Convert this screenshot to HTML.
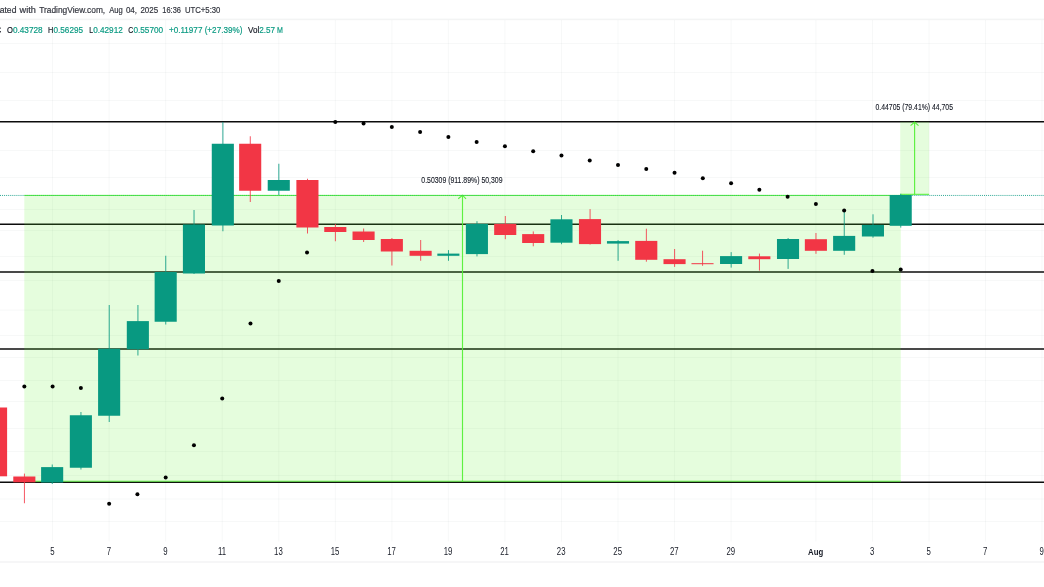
<!DOCTYPE html><html><head><meta charset="utf-8"><style>html,body{margin:0;padding:0;background:#fff;width:1044px;height:587px;overflow:hidden}svg{display:block}text{font-family:"Liberation Sans",sans-serif}</style></head><body>
<svg width="1044" height="587" viewBox="0 0 1044 587">
<rect width="1044" height="587" fill="#fff"/>
<rect x="52.10" y="20" width="1" height="521.5" fill="#2a2e39" fill-opacity="0.036"/>
<rect x="108.64" y="20" width="1" height="521.5" fill="#2a2e39" fill-opacity="0.036"/>
<rect x="165.18" y="20" width="1" height="521.5" fill="#2a2e39" fill-opacity="0.036"/>
<rect x="221.72" y="20" width="1" height="521.5" fill="#2a2e39" fill-opacity="0.036"/>
<rect x="278.26" y="20" width="1" height="521.5" fill="#2a2e39" fill-opacity="0.036"/>
<rect x="334.80" y="20" width="1" height="521.5" fill="#2a2e39" fill-opacity="0.036"/>
<rect x="391.34" y="20" width="1" height="521.5" fill="#2a2e39" fill-opacity="0.036"/>
<rect x="447.88" y="20" width="1" height="521.5" fill="#2a2e39" fill-opacity="0.036"/>
<rect x="504.42" y="20" width="1" height="521.5" fill="#2a2e39" fill-opacity="0.036"/>
<rect x="560.96" y="20" width="1" height="521.5" fill="#2a2e39" fill-opacity="0.036"/>
<rect x="617.50" y="20" width="1" height="521.5" fill="#2a2e39" fill-opacity="0.036"/>
<rect x="674.04" y="20" width="1" height="521.5" fill="#2a2e39" fill-opacity="0.036"/>
<rect x="730.58" y="20" width="1" height="521.5" fill="#2a2e39" fill-opacity="0.036"/>
<rect x="815.39" y="20" width="1" height="521.5" fill="#2a2e39" fill-opacity="0.036"/>
<rect x="871.93" y="20" width="1" height="521.5" fill="#2a2e39" fill-opacity="0.036"/>
<rect x="928.47" y="20" width="1" height="521.5" fill="#2a2e39" fill-opacity="0.036"/>
<rect x="985.01" y="20" width="1" height="521.5" fill="#2a2e39" fill-opacity="0.036"/>
<rect x="1041.55" y="20" width="1" height="521.5" fill="#2a2e39" fill-opacity="0.036"/>
<rect x="0" y="43" width="1044" height="1" fill="#2a2e39" fill-opacity="0.036"/>
<rect x="0" y="72" width="1044" height="1" fill="#2a2e39" fill-opacity="0.036"/>
<rect x="0" y="100" width="1044" height="1" fill="#2a2e39" fill-opacity="0.036"/>
<rect x="0" y="150" width="1044" height="1" fill="#2a2e39" fill-opacity="0.036"/>
<rect x="0" y="177" width="1044" height="1" fill="#2a2e39" fill-opacity="0.036"/>
<rect x="0" y="209" width="1044" height="1" fill="#2a2e39" fill-opacity="0.036"/>
<rect x="0" y="230" width="1044" height="1" fill="#2a2e39" fill-opacity="0.036"/>
<rect x="0" y="256" width="1044" height="1" fill="#2a2e39" fill-opacity="0.036"/>
<rect x="0" y="280" width="1044" height="1" fill="#2a2e39" fill-opacity="0.036"/>
<rect x="0" y="309.6" width="1044" height="1" fill="#2a2e39" fill-opacity="0.036"/>
<rect x="0" y="335" width="1044" height="1" fill="#2a2e39" fill-opacity="0.036"/>
<rect x="0" y="357" width="1044" height="1" fill="#2a2e39" fill-opacity="0.036"/>
<rect x="0" y="380" width="1044" height="1" fill="#2a2e39" fill-opacity="0.036"/>
<rect x="0" y="401" width="1044" height="1" fill="#2a2e39" fill-opacity="0.036"/>
<rect x="0" y="428" width="1044" height="1" fill="#2a2e39" fill-opacity="0.036"/>
<rect x="0" y="451" width="1044" height="1" fill="#2a2e39" fill-opacity="0.036"/>
<rect x="0" y="475" width="1044" height="1" fill="#2a2e39" fill-opacity="0.036"/>
<rect x="0" y="498.5" width="1044" height="1" fill="#2a2e39" fill-opacity="0.036"/>
<rect x="0" y="521" width="1044" height="1" fill="#2a2e39" fill-opacity="0.036"/>
<rect x="0" y="18.6" width="1044" height="1.6" fill="#2a2e39" fill-opacity="0.055"/>
<rect x="0" y="561.2" width="1044" height="1.6" fill="#2a2e39" fill-opacity="0.05"/>
<line x1="0" y1="121.75" x2="1044" y2="121.75" stroke="#0c0c0c" stroke-width="1.6"/>
<line x1="0" y1="224.32" x2="1044" y2="224.32" stroke="#0c0c0c" stroke-width="1.6"/>
<line x1="0" y1="272.0" x2="1044" y2="272.0" stroke="#0c0c0c" stroke-width="1.6"/>
<line x1="0" y1="349.0" x2="1044" y2="349.0" stroke="#0c0c0c" stroke-width="1.6"/>
<line x1="0" y1="482.3" x2="1044" y2="482.3" stroke="#0c0c0c" stroke-width="1.6"/>
<rect x="24.3" y="195.3" width="876.5" height="287.0" fill="#5cf02c" fill-opacity="0.16"/>
<rect x="900.2" y="121.8" width="28.899999999999977" height="72.7" fill="#5cf02c" fill-opacity="0.16"/>
<line x1="24.3" y1="195.4" x2="900.8" y2="195.4" stroke="#4ff030" stroke-width="1"/>
<line x1="24.3" y1="481.2" x2="900.8" y2="481.2" stroke="#4ff030" stroke-width="1" stroke-opacity="0.8"/>
<line x1="900.2" y1="194.3" x2="929.1" y2="194.3" stroke="#4ff030" stroke-width="1"/>
<path d="M462.5 482V195.4M458.2 198.8L462.5 195.2L466 198.8" stroke="#4ff030" stroke-width="1.15" stroke-opacity="0.9" fill="none"/>
<path d="M914.6 194.3V122M910.6 125.6L914.6 122L918.5 125.6" stroke="#4ff030" stroke-width="1.15" stroke-opacity="0.9" fill="none"/>
<line x1="0" y1="195.45" x2="24.3" y2="195.45" stroke="#089981" stroke-width="1" stroke-dasharray="1 1.05" stroke-dashoffset="0.00" stroke-opacity="0.85"/>
<line x1="24.3" y1="195.45" x2="900.8" y2="195.45" stroke="#089981" stroke-width="1" stroke-dasharray="1 1.05" stroke-dashoffset="1.75" stroke-opacity="0.45"/>
<line x1="900.8" y1="195.45" x2="1044" y2="195.45" stroke="#089981" stroke-width="1" stroke-dasharray="1 1.05" stroke-dashoffset="0.85" stroke-opacity="0.85"/>
<rect x="-4.34" y="400" width="0.95" height="80.00" fill="#F23645" fill-opacity="0.88"/>
<rect x="-14.99" y="407.5" width="22.10" height="68.80" fill="#F23645"/>
<rect x="23.93" y="473.6" width="0.95" height="29.65" fill="#F23645" fill-opacity="0.88"/>
<rect x="13.28" y="476.5" width="22.10" height="5.80" fill="#F23645"/>
<rect x="51.75" y="464.5" width="0.95" height="19.50" fill="#089981" fill-opacity="0.88"/>
<rect x="41.10" y="467.1" width="22.10" height="15.40" fill="#089981"/>
<rect x="80.47" y="412" width="0.95" height="57.50" fill="#089981" fill-opacity="0.88"/>
<rect x="69.82" y="415.25" width="22.10" height="52.50" fill="#089981"/>
<rect x="108.74" y="305" width="0.95" height="117.00" fill="#089981" fill-opacity="0.88"/>
<rect x="98.09" y="348.75" width="22.10" height="67.00" fill="#089981"/>
<rect x="137.45" y="305" width="0.95" height="50.50" fill="#089981" fill-opacity="0.88"/>
<rect x="126.80" y="321.1" width="22.10" height="28.15" fill="#089981"/>
<rect x="165.28" y="255.75" width="0.95" height="68.75" fill="#089981" fill-opacity="0.88"/>
<rect x="154.63" y="272" width="22.10" height="49.75" fill="#089981"/>
<rect x="193.55" y="210" width="0.95" height="64.00" fill="#089981" fill-opacity="0.88"/>
<rect x="182.90" y="224.5" width="22.10" height="49.00" fill="#089981"/>
<rect x="222.42" y="122" width="0.95" height="109.25" fill="#089981" fill-opacity="0.88"/>
<rect x="211.77" y="143.75" width="22.10" height="81.75" fill="#089981"/>
<rect x="249.79" y="136.25" width="0.95" height="65.75" fill="#F23645" fill-opacity="0.88"/>
<rect x="239.14" y="143.75" width="22.10" height="47.00" fill="#F23645"/>
<rect x="278.36" y="163.75" width="0.95" height="31.25" fill="#089981" fill-opacity="0.88"/>
<rect x="267.71" y="180" width="22.10" height="10.75" fill="#089981"/>
<rect x="307.03" y="178.75" width="0.95" height="54.75" fill="#F23645" fill-opacity="0.88"/>
<rect x="296.38" y="180" width="22.10" height="47.50" fill="#F23645"/>
<rect x="334.90" y="224" width="0.95" height="17.25" fill="#F23645" fill-opacity="0.88"/>
<rect x="324.25" y="227" width="22.10" height="5.00" fill="#F23645"/>
<rect x="363.17" y="228.5" width="0.95" height="13.50" fill="#F23645" fill-opacity="0.88"/>
<rect x="352.52" y="231.5" width="22.10" height="8.50" fill="#F23645"/>
<rect x="391.44" y="238" width="0.95" height="27.50" fill="#F23645" fill-opacity="0.88"/>
<rect x="380.79" y="239" width="22.10" height="12.50" fill="#F23645"/>
<rect x="420.21" y="240" width="0.95" height="20.75" fill="#F23645" fill-opacity="0.88"/>
<rect x="409.56" y="250.8" width="22.10" height="5.00" fill="#F23645"/>
<rect x="447.98" y="250.1" width="0.95" height="10.70" fill="#089981" fill-opacity="0.88"/>
<rect x="437.33" y="253.6" width="22.10" height="2.20" fill="#089981"/>
<rect x="476.50" y="221.2" width="0.95" height="35.20" fill="#089981" fill-opacity="0.88"/>
<rect x="465.85" y="223.9" width="22.10" height="30.20" fill="#089981"/>
<rect x="504.82" y="216.0" width="0.95" height="23.20" fill="#F23645" fill-opacity="0.88"/>
<rect x="494.17" y="223.9" width="22.10" height="11.10" fill="#F23645"/>
<rect x="532.79" y="231.4" width="0.95" height="14.90" fill="#F23645" fill-opacity="0.88"/>
<rect x="522.14" y="234.1" width="22.10" height="8.90" fill="#F23645"/>
<rect x="561.06" y="215" width="0.95" height="29.20" fill="#089981" fill-opacity="0.88"/>
<rect x="550.41" y="219.3" width="22.10" height="23.40" fill="#089981"/>
<rect x="589.60" y="209.1" width="0.95" height="35.40" fill="#F23645" fill-opacity="0.88"/>
<rect x="578.95" y="219.1" width="22.10" height="25.00" fill="#F23645"/>
<rect x="617.60" y="240.1" width="0.95" height="20.70" fill="#089981" fill-opacity="0.88"/>
<rect x="606.95" y="241.1" width="22.10" height="2.50" fill="#089981"/>
<rect x="645.87" y="228.7" width="0.95" height="33.00" fill="#F23645" fill-opacity="0.88"/>
<rect x="635.22" y="240.9" width="22.10" height="18.90" fill="#F23645"/>
<rect x="674.14" y="249.0" width="0.95" height="17.90" fill="#F23645" fill-opacity="0.88"/>
<rect x="663.49" y="259.2" width="22.10" height="4.90" fill="#F23645"/>
<rect x="702.11" y="250.7" width="0.95" height="15.10" fill="#F23645" fill-opacity="0.88"/>
<rect x="691.46" y="263.2" width="22.10" height="1.00" fill="#F23645"/>
<rect x="730.68" y="252.1" width="0.95" height="15.50" fill="#089981" fill-opacity="0.88"/>
<rect x="720.03" y="256.1" width="22.10" height="7.90" fill="#089981"/>
<rect x="758.95" y="253.6" width="0.95" height="17.00" fill="#F23645" fill-opacity="0.88"/>
<rect x="748.30" y="256.3" width="22.10" height="2.90" fill="#F23645"/>
<rect x="787.62" y="238.0" width="0.95" height="30.90" fill="#089981" fill-opacity="0.88"/>
<rect x="776.97" y="239.0" width="22.10" height="20.00" fill="#089981"/>
<rect x="815.49" y="233" width="0.95" height="20.80" fill="#F23645" fill-opacity="0.88"/>
<rect x="804.84" y="239.2" width="22.10" height="11.60" fill="#F23645"/>
<rect x="843.76" y="211" width="0.95" height="43.80" fill="#089981" fill-opacity="0.88"/>
<rect x="833.11" y="235.9" width="22.10" height="14.90" fill="#089981"/>
<rect x="872.53" y="214.3" width="0.95" height="23.40" fill="#089981" fill-opacity="0.88"/>
<rect x="861.88" y="224.9" width="22.10" height="11.60" fill="#089981"/>
<rect x="900.30" y="193.75" width="0.95" height="33.85" fill="#089981" fill-opacity="0.88"/>
<rect x="889.65" y="195.0" width="22.10" height="30.80" fill="#089981"/>
<circle cx="24.33" cy="386.5" r="2" fill="#000"/>
<circle cx="52.60" cy="386.5" r="2" fill="#000"/>
<circle cx="80.87" cy="388" r="2" fill="#000"/>
<circle cx="109.14" cy="503.75" r="2" fill="#000"/>
<circle cx="137.41" cy="494.25" r="2" fill="#000"/>
<circle cx="165.68" cy="477.5" r="2" fill="#000"/>
<circle cx="193.95" cy="445.25" r="2" fill="#000"/>
<circle cx="222.22" cy="398.5" r="2" fill="#000"/>
<circle cx="250.49" cy="323.5" r="2" fill="#000"/>
<circle cx="278.76" cy="281" r="2" fill="#000"/>
<circle cx="307.03" cy="252.5" r="2" fill="#000"/>
<circle cx="335.30" cy="122" r="2" fill="#000"/>
<circle cx="363.57" cy="123.5" r="2" fill="#000"/>
<circle cx="391.84" cy="127" r="2" fill="#000"/>
<circle cx="420.11" cy="132" r="2" fill="#000"/>
<circle cx="448.38" cy="137" r="2" fill="#000"/>
<circle cx="476.65" cy="142" r="2" fill="#000"/>
<circle cx="504.92" cy="146.25" r="2" fill="#000"/>
<circle cx="533.19" cy="151.25" r="2" fill="#000"/>
<circle cx="561.46" cy="155.5" r="2" fill="#000"/>
<circle cx="589.73" cy="160.5" r="2" fill="#000"/>
<circle cx="618.00" cy="165" r="2" fill="#000"/>
<circle cx="646.27" cy="169" r="2" fill="#000"/>
<circle cx="674.54" cy="172.75" r="2" fill="#000"/>
<circle cx="702.81" cy="178.25" r="2" fill="#000"/>
<circle cx="731.08" cy="183.25" r="2" fill="#000"/>
<circle cx="759.35" cy="189.75" r="2" fill="#000"/>
<circle cx="787.62" cy="196.75" r="2" fill="#000"/>
<circle cx="815.89" cy="204.1" r="2" fill="#000"/>
<circle cx="844.16" cy="210.5" r="2" fill="#000"/>
<circle cx="872.43" cy="271.0" r="2" fill="#000"/>
<circle cx="900.70" cy="269.4" r="2" fill="#000"/>
<g opacity="0.99">
<text x="-0.3" y="13.3" font-size="9.7" fill="#2f323b" stroke="#2f323b" stroke-width="0.2" textLength="16.7" lengthAdjust="spacingAndGlyphs" text-anchor="start">ated</text>
<text x="19.6" y="13.3" font-size="9.7" fill="#2f323b" stroke="#2f323b" stroke-width="0.2" textLength="16.3" lengthAdjust="spacingAndGlyphs" text-anchor="start">with</text>
<text x="39.2" y="13.3" font-size="9.7" fill="#2f323b" stroke="#2f323b" stroke-width="0.2" textLength="66.0" lengthAdjust="spacingAndGlyphs" text-anchor="start">TradingView.com,</text>
<text x="109.2" y="13.3" font-size="9.7" fill="#2f323b" stroke="#2f323b" stroke-width="0.2" textLength="13.6" lengthAdjust="spacingAndGlyphs" text-anchor="start">Aug</text>
<text x="125.9" y="13.3" font-size="9.7" fill="#2f323b" stroke="#2f323b" stroke-width="0.2" textLength="11.1" lengthAdjust="spacingAndGlyphs" text-anchor="start">04,</text>
<text x="140.4" y="13.3" font-size="9.7" fill="#2f323b" stroke="#2f323b" stroke-width="0.2" textLength="17.7" lengthAdjust="spacingAndGlyphs" text-anchor="start">2025</text>
<text x="162.3" y="13.3" font-size="9.7" fill="#2f323b" stroke="#2f323b" stroke-width="0.2" textLength="18.6" lengthAdjust="spacingAndGlyphs" text-anchor="start">16:36</text>
<text x="184.9" y="13.3" font-size="9.7" fill="#2f323b" stroke="#2f323b" stroke-width="0.2" textLength="35.5" lengthAdjust="spacingAndGlyphs" text-anchor="start">UTC+5:30</text>
<text x="-4.0" y="32.6" font-size="9.8" fill="#131722" stroke="#131722" stroke-width="0.2" textLength="5.2" lengthAdjust="spacingAndGlyphs" text-anchor="start">C</text>
<text x="7.0" y="32.6" font-size="9.8" fill="#131722" stroke="#131722" stroke-width="0.2" textLength="5.9" lengthAdjust="spacingAndGlyphs" text-anchor="start">O</text>
<text x="12.9" y="32.6" font-size="9.8" fill="#089981" stroke="#089981" stroke-width="0.2" textLength="29.8" lengthAdjust="spacingAndGlyphs" text-anchor="start">0.43728</text>
<text x="48.1" y="32.6" font-size="9.8" fill="#131722" stroke="#131722" stroke-width="0.2" textLength="5.3" lengthAdjust="spacingAndGlyphs" text-anchor="start">H</text>
<text x="53.5" y="32.6" font-size="9.8" fill="#089981" stroke="#089981" stroke-width="0.2" textLength="29.5" lengthAdjust="spacingAndGlyphs" text-anchor="start">0.56295</text>
<text x="89.3" y="32.6" font-size="9.8" fill="#131722" stroke="#131722" stroke-width="0.2" textLength="3.8" lengthAdjust="spacingAndGlyphs" text-anchor="start">L</text>
<text x="93.2" y="32.6" font-size="9.8" fill="#089981" stroke="#089981" stroke-width="0.2" textLength="29.6" lengthAdjust="spacingAndGlyphs" text-anchor="start">0.42912</text>
<text x="128.3" y="32.6" font-size="9.8" fill="#131722" stroke="#131722" stroke-width="0.2" textLength="5.0" lengthAdjust="spacingAndGlyphs" text-anchor="start">C</text>
<text x="133.4" y="32.6" font-size="9.8" fill="#089981" stroke="#089981" stroke-width="0.2" textLength="29.7" lengthAdjust="spacingAndGlyphs" text-anchor="start">0.55700</text>
<text x="168.9" y="32.6" font-size="9.8" fill="#089981" stroke="#089981" stroke-width="0.2" textLength="73.5" lengthAdjust="spacingAndGlyphs" text-anchor="start">+0.11977 (+27.39%)</text>
<text x="248.0" y="32.6" font-size="9.8" fill="#131722" stroke="#131722" stroke-width="0.2" textLength="11.2" lengthAdjust="spacingAndGlyphs" text-anchor="start">Vol</text>
<text x="259.3" y="32.6" font-size="9.8" fill="#089981" stroke="#089981" stroke-width="0.2" textLength="15.8" lengthAdjust="spacingAndGlyphs" text-anchor="start">2.57</text>
<text x="277.0" y="32.6" font-size="9.8" fill="#089981" stroke="#089981" stroke-width="0.2" textLength="5.9" lengthAdjust="spacingAndGlyphs" text-anchor="start">M</text>
<text x="421.3" y="182.6" font-size="8.6" fill="#131722" stroke="#131722" stroke-width="0.12" textLength="81.2" lengthAdjust="spacingAndGlyphs" text-anchor="start">0.50309 (911.89%) 50,309</text>
<text x="875.5" y="110.1" font-size="8.6" fill="#131722" stroke="#131722" stroke-width="0.12" textLength="77.5" lengthAdjust="spacingAndGlyphs" text-anchor="start">0.44705 (79.41%) 44,705</text>
<text transform="translate(52.30,554.7) scale(0.78,1)" x="0" y="0" font-size="10" fill="#131722" text-anchor="middle">5</text>
<text transform="translate(108.84,554.7) scale(0.78,1)" x="0" y="0" font-size="10" fill="#131722" text-anchor="middle">7</text>
<text transform="translate(165.38,554.7) scale(0.78,1)" x="0" y="0" font-size="10" fill="#131722" text-anchor="middle">9</text>
<text transform="translate(221.92,554.7) scale(0.78,1)" x="0" y="0" font-size="10" fill="#131722" text-anchor="middle">11</text>
<text transform="translate(278.46,554.7) scale(0.78,1)" x="0" y="0" font-size="10" fill="#131722" text-anchor="middle">13</text>
<text transform="translate(335.00,554.7) scale(0.78,1)" x="0" y="0" font-size="10" fill="#131722" text-anchor="middle">15</text>
<text transform="translate(391.54,554.7) scale(0.78,1)" x="0" y="0" font-size="10" fill="#131722" text-anchor="middle">17</text>
<text transform="translate(448.08,554.7) scale(0.78,1)" x="0" y="0" font-size="10" fill="#131722" text-anchor="middle">19</text>
<text transform="translate(504.62,554.7) scale(0.78,1)" x="0" y="0" font-size="10" fill="#131722" text-anchor="middle">21</text>
<text transform="translate(561.16,554.7) scale(0.78,1)" x="0" y="0" font-size="10" fill="#131722" text-anchor="middle">23</text>
<text transform="translate(617.70,554.7) scale(0.78,1)" x="0" y="0" font-size="10" fill="#131722" text-anchor="middle">25</text>
<text transform="translate(674.24,554.7) scale(0.78,1)" x="0" y="0" font-size="10" fill="#131722" text-anchor="middle">27</text>
<text transform="translate(730.78,554.7) scale(0.78,1)" x="0" y="0" font-size="10" fill="#131722" text-anchor="middle">29</text>
<text transform="translate(815.59,554.8) scale(0.84,1)" x="0" y="0" font-size="9.3" fill="#131722" text-anchor="middle" font-weight="bold">Aug</text>
<text transform="translate(872.13,554.7) scale(0.78,1)" x="0" y="0" font-size="10" fill="#131722" text-anchor="middle">3</text>
<text transform="translate(928.67,554.7) scale(0.78,1)" x="0" y="0" font-size="10" fill="#131722" text-anchor="middle">5</text>
<text transform="translate(985.21,554.7) scale(0.78,1)" x="0" y="0" font-size="10" fill="#131722" text-anchor="middle">7</text>
<text transform="translate(1041.75,554.7) scale(0.78,1)" x="0" y="0" font-size="10" fill="#131722" text-anchor="middle">9</text>
</g>
</svg></body></html>
